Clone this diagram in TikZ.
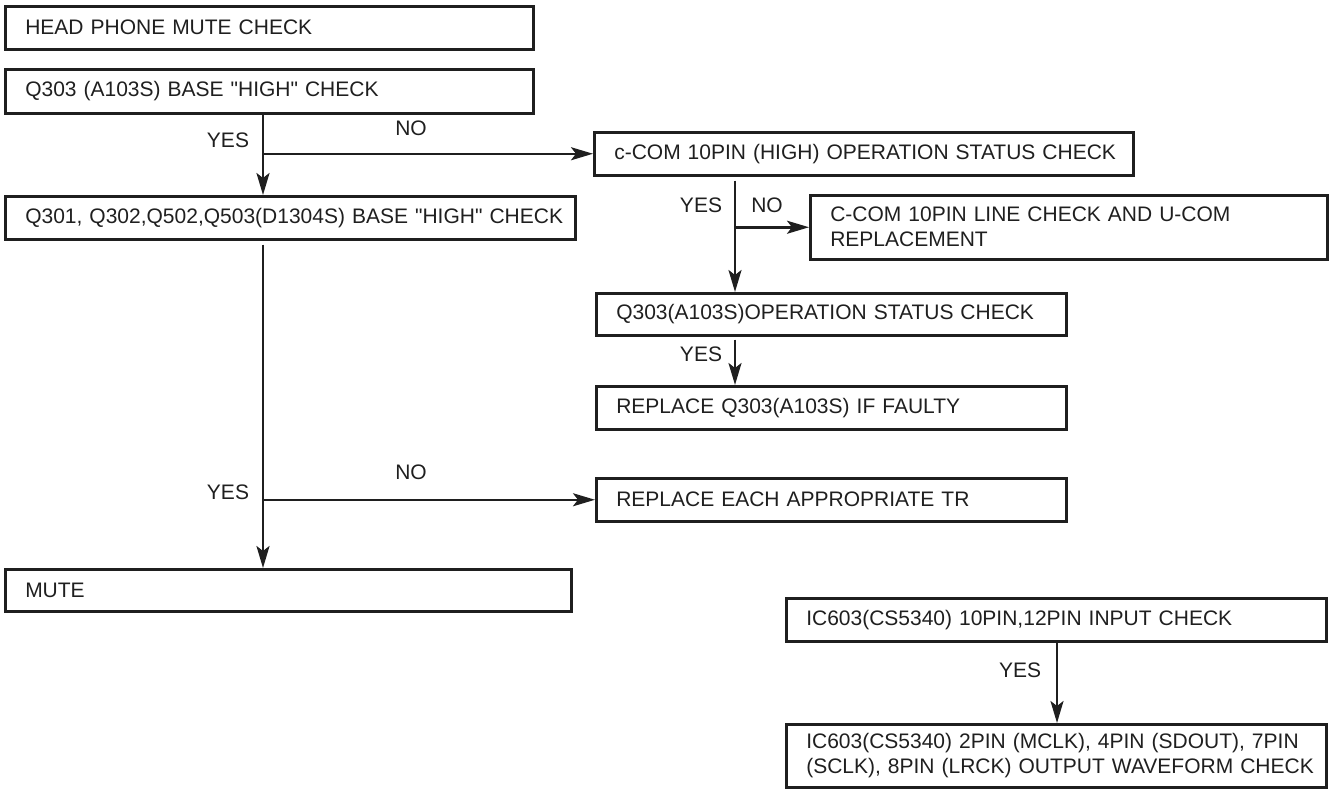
\documentclass[tikz,border=0pt]{standalone}
\usepackage{fontspec}
\setmainfont{Liberation Sans}
\usetikzlibrary{arrows.meta}

\begin{document}
\begin{tikzpicture}[x=1pt,y=-1pt,
        every node/.style={font=\fontsize{21}{25}\selectfont,text=tinta},
        caja/.style={draw=tinta,line width=2.5pt,anchor=north west,inner xsep=20pt,inner ysep=0pt,align=left},
        flecha/.style={draw=tinta,line width=2.5pt,-{Stealth[length=22pt,width=13pt,inset=5pt]}},
        etiq/.style={inner sep=0pt}]
        %colores
        \colorlet{tinta}{black!88}

        % Marco
        \useasboundingbox (0,0) rectangle (1330,788);

        % Cajas, columna izquierda
        \node[caja,text width=488pt,minimum height=43pt] (hp) at (4,5) {HEAD PHONE MUTE CHECK};
        \node[caja,text width=488pt,minimum height=44pt] (q303) at (4,68) {Q303 (A103S) BASE \textquotedbl HIGH\textquotedbl{} CHECK};
        \node[caja,text width=530pt,minimum height=43pt] (q301) at (4,195) {\mbox{Q301, Q302,Q502,Q503(D1304S) BASE \textquotedbl HIGH\textquotedbl{} CHECK}};
        \node[caja,text width=526pt,minimum height=42pt] (mute) at (4,568) {MUTE};

        % Cajas, columna derecha
        \node[caja,text width=499pt,minimum height=43pt] (ccom) at (593,131) {\mbox{c-COM 10PIN (HIGH) OPERATION STATUS CHECK}};
        \node[caja,text width=477pt,minimum height=64pt] (linea) at (809,194) {C-COM 10PIN LINE CHECK AND U-COM\\REPLACEMENT};
        \node[caja,text width=430pt,minimum height=42pt] (oper) at (595,292) {Q303(A103S)OPERATION STATUS CHECK};
        \node[caja,text width=430pt,minimum height=43pt] (repq) at (595,385) {REPLACE Q303(A103S) IF FAULTY};
        \node[caja,text width=430pt,minimum height=43pt] (reptr) at (595,477) {REPLACE EACH APPROPRIATE TR};

        % Cajas IC603
        \node[caja,text width=500pt,minimum height=43pt] (ic1) at (785,597) {IC603(CS5340) 10PIN,12PIN INPUT CHECK};
        \node[caja,text width=500pt,minimum height=63pt] (ic2) at (785,723) {\mbox{IC603(CS5340) 2PIN (MCLK), 4PIN (SDOUT), 7PIN}\\\mbox{(SCLK), 8PIN (LRCK) OUTPUT WAVEFORM CHECK}};

        % Troncos
        \coordinate (t1) at (263,0);
        \coordinate (t2) at (735,0);
        \coordinate (t3) at (1057,0);

        % Flechas
        \draw[flecha] (t1 |- q303.south) -- (t1 |- q301.north);
        \draw[flecha] (t1 |- ccom.west) -- (ccom.west);
        \draw[flecha,shorten <=4pt] (t1 |- q301.south) -- (t1 |- mute.north);
        \draw[flecha] (t1 |- reptr.west) -- (reptr.west);
        \draw[flecha,shorten <=4pt] (t2 |- ccom.south) -- (t2 |- oper.north);
        \draw[flecha] (t2 |- linea.west) -- (linea.west);
        \draw[flecha,shorten <=3pt] (t2 |- oper.south) -- (t2 |- repq.north);
        \draw[flecha] (t3 |- ic1.south) -- (t3 |- ic2.north);

        % Etiquetas
        \node[etiq] (si1) at (228,140) {YES};
        \node[etiq] (no1) at (411,128) {NO};
        \node[etiq] (si2) at (701,205) {YES};
        \node[etiq] (no2) at (767,205) {NO};
        \node[etiq] (si3) at (701,354) {YES};
        \node[etiq] (si4) at (228,492) {YES};
        \node[etiq] (no3) at (411,472) {NO};
        \node[etiq] (si5) at (1020,670) {YES};
    \end{tikzpicture}
\end{document}
